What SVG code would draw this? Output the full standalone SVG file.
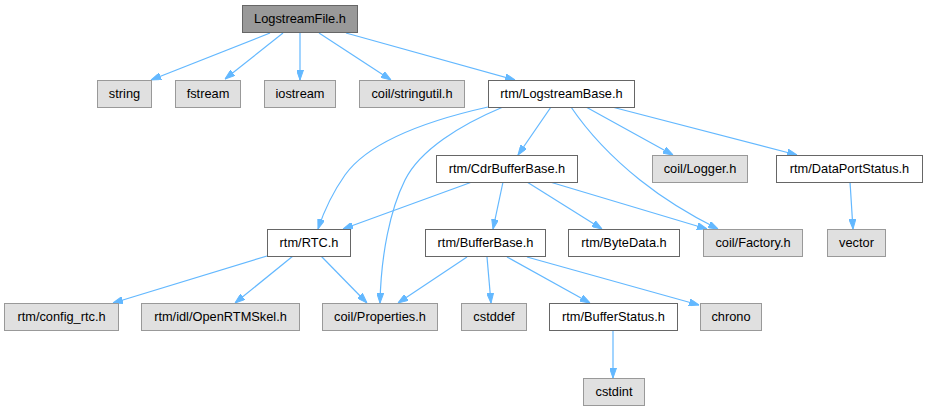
<svg xmlns="http://www.w3.org/2000/svg" width="928" height="411" viewBox="0 0 928 411">
<style>
.n rect{stroke-width:1}
.root rect{fill:#999999;stroke:#666666}
.ext rect{fill:#e0e0e0;stroke:#999999}
.int rect{fill:#ffffff;stroke:#666666}
.n text{font-family:"Liberation Sans",Arial,sans-serif;font-size:12.8px;fill:#000000;text-anchor:middle}
#edges path{fill:none;stroke:#63b8ff;stroke-width:1.2;marker-end:url(#arr)}
</style>
<defs>
<marker id="arr" viewBox="0 0 10 7" refX="10" refY="3.5" markerWidth="10" markerHeight="7" markerUnits="userSpaceOnUse" orient="auto">
<path d="M0,0 L10,3.5 L0,7 z" fill="#63b8ff" stroke="#63b8ff"/>
</marker>
</defs>
<rect width="928" height="411" fill="#ffffff"/>
<g id="edges">
<path d="M270,33 L151,80"/>
<path d="M283,33 L225,79"/>
<path d="M300,33 L300,80"/>
<path d="M319,33 L391,80"/>
<path d="M346,33 L515,80"/>
<path d="M488,107 C430,120 370,140 345,175 C333,192 325,208 318,229"/>
<path d="M503,107 C460,125 420,150 405,180 C390,210 381,255 380,303"/>
<path d="M551,107 L518,155"/>
<path d="M571,107 C590,135 615,160 640,180 C665,200 690,215 718,229"/>
<path d="M586,107 L673,155"/>
<path d="M612,107 L797,155"/>
<path d="M472,182 L343,229"/>
<path d="M503,182 L493,229"/>
<path d="M527,182 L602,229"/>
<path d="M550,182 L707,229"/>
<path d="M850,182 L853,229"/>
<path d="M267,256 L113,303"/>
<path d="M293,256 L235,303"/>
<path d="M321,256 L367,303"/>
<path d="M467,257 L398,303"/>
<path d="M487,257 L491,303"/>
<path d="M507,257 L590,303"/>
<path d="M527,257 L699,305"/>
<path d="M613,330 L613,378"/>
</g>
<g id="n_LogstreamFile" class="n root"><rect x="242.5" y="5.5" width="115" height="27"/><text x="300" y="23">LogstreamFile.h</text></g>
<g id="n_string" class="n ext"><rect x="97.5" y="80.5" width="54" height="27"/><text x="124.5" y="98">string</text></g>
<g id="n_fstream" class="n ext"><rect x="175.5" y="80.5" width="65" height="27"/><text x="208" y="98">fstream</text></g>
<g id="n_iostream" class="n ext"><rect x="264.5" y="80.5" width="71" height="27"/><text x="300" y="98">iostream</text></g>
<g id="n_stringutil" class="n ext"><rect x="359.5" y="80.5" width="105" height="27"/><text x="412" y="98">coil/stringutil.h</text></g>
<g id="n_LogstreamBase" class="n int"><rect x="488.5" y="80.5" width="146" height="27"/><text x="561.5" y="98">rtm/LogstreamBase.h</text></g>
<g id="n_CdrBufferBase" class="n int"><rect x="436.5" y="155.5" width="141" height="27"/><text x="507" y="173">rtm/CdrBufferBase.h</text></g>
<g id="n_Logger" class="n ext"><rect x="652.5" y="155.5" width="95" height="27"/><text x="700" y="173">coil/Logger.h</text></g>
<g id="n_DataPortStatus" class="n int"><rect x="776.5" y="155.5" width="146" height="27"/><text x="849.5" y="173">rtm/DataPortStatus.h</text></g>
<g id="n_RTC" class="n int"><rect x="267.5" y="229.5" width="83" height="27"/><text x="309" y="247">rtm/RTC.h</text></g>
<g id="n_BufferBase" class="n int"><rect x="425.5" y="229.5" width="120" height="27"/><text x="485.5" y="247">rtm/BufferBase.h</text></g>
<g id="n_ByteData" class="n int"><rect x="568.5" y="229.5" width="111" height="27"/><text x="624" y="247">rtm/ByteData.h</text></g>
<g id="n_Factory" class="n ext"><rect x="703.5" y="229.5" width="99" height="27"/><text x="753" y="247">coil/Factory.h</text></g>
<g id="n_vector" class="n ext"><rect x="827.5" y="229.5" width="58" height="27"/><text x="856.5" y="247">vector</text></g>
<g id="n_config_rtc" class="n ext"><rect x="4.5" y="303.5" width="114" height="27"/><text x="61.5" y="321">rtm/config_rtc.h</text></g>
<g id="n_OpenRTMSkel" class="n ext"><rect x="141.5" y="303.5" width="158" height="27"/><text x="220.5" y="321">rtm/idl/OpenRTMSkel.h</text></g>
<g id="n_Properties" class="n ext"><rect x="322.5" y="303.5" width="115" height="27"/><text x="380" y="321">coil/Properties.h</text></g>
<g id="n_cstddef" class="n ext"><rect x="461.5" y="303.5" width="65" height="27"/><text x="494" y="321">cstddef</text></g>
<g id="n_BufferStatus" class="n int"><rect x="549.5" y="303.5" width="128" height="27"/><text x="613.5" y="321">rtm/BufferStatus.h</text></g>
<g id="n_chrono" class="n ext"><rect x="700.5" y="303.5" width="61" height="27"/><text x="731" y="321">chrono</text></g>
<g id="n_cstdint" class="n ext"><rect x="583.5" y="378.5" width="61" height="27"/><text x="614" y="396">cstdint</text></g>
</svg>
